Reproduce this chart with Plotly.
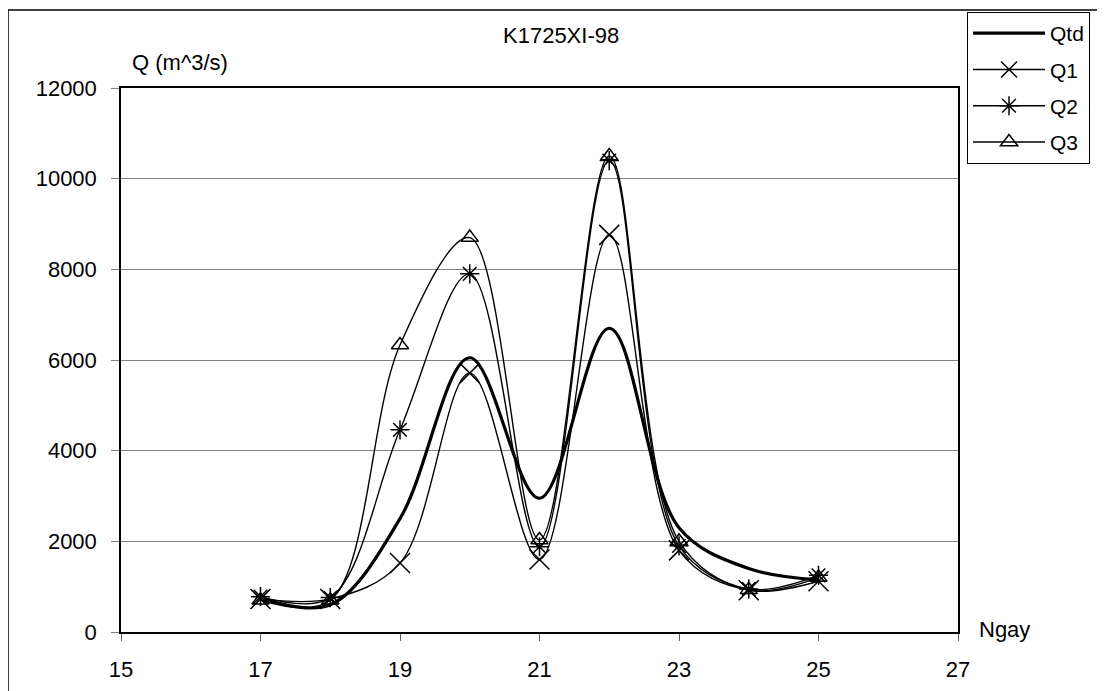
import plotly.graph_objects as go

# data (daily discharge, m^3/s)
days = [17, 18, 19, 20, 21, 22, 23, 24, 25]
q_td = [750, 600, 2500, 6050, 2950, 6700, 2300, 1400, 1150]
q_1 = [730, 730, 1520, 5710, 1600, 8760, 1800, 920, 1120]
q_2 = [780, 760, 4460, 7900, 1880, 10400, 1900, 950, 1250]
q_3 = [700, 700, 6330, 8700, 2030, 10500, 2000, 930, 1200]

FONT = "Liberation Sans, Arial, sans-serif"

fig = go.Figure()

fig.add_trace(go.Scatter(x=days, y=q_td, name="Qtd", mode="lines",
                         line=dict(color="black", width=3.2, shape="spline", smoothing=1.0),
                         legendgroup="a"))
fig.add_trace(go.Scatter(x=days, y=q_1, name="Q1", mode="lines+markers",
                         line=dict(color="black", width=1.4, shape="spline", smoothing=1.0),
                         marker=dict(symbol="x-thin-open", size=20, color="black",
                                     line=dict(color="black", width=1.5)),
                         legendgroup="b"))
fig.add_trace(go.Scatter(x=days, y=q_2, name="Q2", mode="lines+markers",
                         line=dict(color="black", width=1.4, shape="spline", smoothing=1.0),
                         marker=dict(symbol="asterisk-open", size=16, color="black",
                                     line=dict(color="black", width=1.5)),
                         legendgroup="c"))
fig.add_trace(go.Scatter(x=days, y=q_3, name="Q3", mode="lines+markers",
                         line=dict(color="black", width=1.4, shape="spline", smoothing=1.0),
                         marker=dict(symbol="triangle-up-open", size=15, color="black",
                                     line=dict(color="black", width=1.5)),
                         legendgroup="d"))

# the page body adds an 8px offset, so margins are shifted to compensate
fig.update_layout(
    width=1105, height=691,
    margin=dict(l=113, r=155, t=80, b=67, autoexpand=False),
    paper_bgcolor="white", plot_bgcolor="white",
    font=dict(family=FONT, size=21, color="black"),
    showlegend=True,
    legend=dict(x=1.0108, y=1.1397, xanchor="left", yanchor="top",
                bgcolor="white", bordercolor="black", borderwidth=1,
                font=dict(size=21), traceorder="grouped", tracegroupgap=6,
                itemwidth=72),
    xaxis=dict(range=[15, 27], tickvals=[15, 17, 19, 21, 23, 25, 27],
               showgrid=False, zeroline=False,
               showline=True, linecolor="black", linewidth=2, mirror=True,
               ticks="outside", ticklen=7, tickcolor="#606060", tickwidth=1,
               ticklabelstandoff=10, tickfont=dict(size=22)),
    yaxis=dict(range=[0, 12000], tickvals=[0, 2000, 4000, 6000, 8000, 10000, 12000],
               tickformat="d",
               showgrid=True, gridcolor="#808080", gridwidth=1, zeroline=False,
               showline=True, linecolor="black", linewidth=1.5, mirror=True,
               ticks="outside", ticklen=8, tickcolor="#808080", tickwidth=1,
               ticklabelstandoff=10, tickfont=dict(size=22)),
)

# outer chart frame
fig.add_shape(type="rect", xref="paper", yref="paper",
              x0=-0.135, x1=1.18, y0=-0.2, y1=1.1434,
              line=dict(color="black", width=1.5), layer="below")

fig.add_annotation(text="K1725XI-98", xref="paper", yref="paper",
                   x=0.526, y=1.0974, xanchor="center", yanchor="middle",
                   showarrow=False, font=dict(size=22))
fig.add_annotation(text="Q (m^3/s)", xref="paper", yref="paper",
                   x=0.011, y=1.046, xanchor="left", yanchor="middle",
                   showarrow=False, font=dict(size=22))
fig.add_annotation(text="Ngay", xref="paper", yref="paper",
                   x=1.056, y=0.004, xanchor="center", yanchor="middle",
                   showarrow=False, font=dict(size=22))

fig.write_html("out.html")
